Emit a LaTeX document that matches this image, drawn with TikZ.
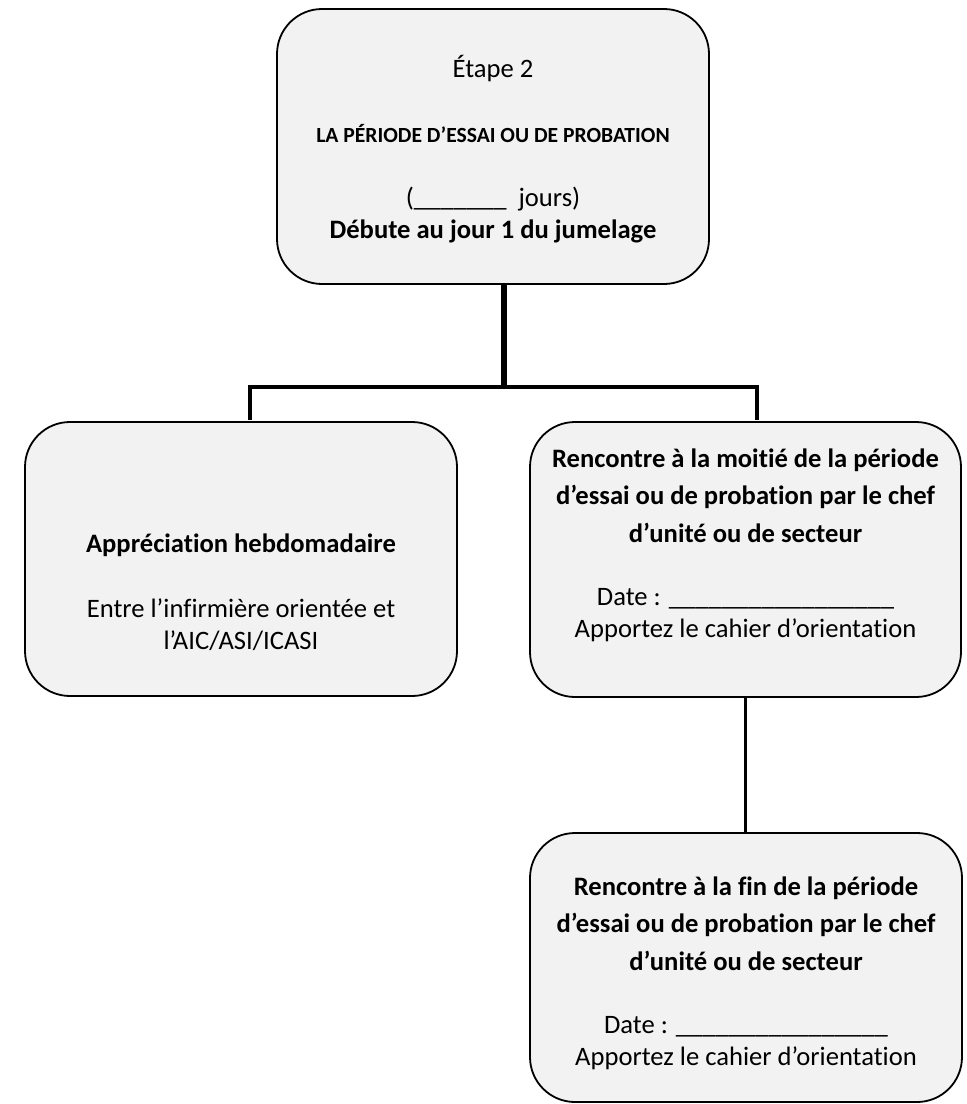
\documentclass[tikz,border=0pt]{standalone}
\usepackage{fontspec}
\setmainfont{Carlito}[Ligatures=NoCommon]
\definecolor{cardgray}{HTML}{F2F2F2}

\begin{document}
\begin{tikzpicture}[x=1pt,y=-1pt]

  \tikzset{
    card/.style={draw=black, line width=1.8pt, fill=cardgray, rounded corners=45pt, inner sep=0pt},
    txt/.style={align=center, font=\fontsize{26.6}{32}\selectfont},
    link/.style={line width=3.8pt, line join=miter},
  }
  \def\blank{\_\_\_\_\_\_\_\_\_\_\_\_\_\_\_\_}

  \useasboundingbox (0,0) rectangle (967,1104);

  %Fork points
  \coordinate (fork) at (504,387);
  \coordinate (leftEnd) at (250,420);
  \coordinate (rightEnd) at (757,420);

  %Boxes
  \node[card, minimum width=432pt, minimum height=275pt] (etape) at (493,146.5) {};
  \node[card, minimum width=432pt, minimum height=274pt] (appr) at (241,559) {};
  \node[card, minimum width=431pt, minimum height=275pt] (mid) at (745.5,559.5) {};
  \node[card, minimum width=432pt, minimum height=269pt] (fin) at (746,967.5) {};

  %Links
  \draw[line width=5.5pt] (etape.south -| fork) -- ([yshift=-1.9pt]fork);
  \draw[link] (leftEnd) |- (fork) -| (rightEnd);
  \draw[link] (mid.south) -- (mid.south |- fin.north);

  %Texts
  \node[txt] (etapeTxt) at (493,149) {%
    Étape 2\\[33pt]
    {\bfseries\fontsize{21.6}{32}\selectfont LA PÉRIODE D’ESSAI OU DE PROBATION}\\[32pt]
    (\_\_\_\_\_\_\_\ \ jours)\\
    \textbf{Débute au jour 1 du jumelage}};
  \node[txt] (apprTxt) at (241,592) {%
    \textbf{Appréciation hebdomadaire}\\[33pt]
    Entre l’infirmière orientée et\\
    l’AIC/ASI/ICASI};
  \node[txt] (midTxt) at (745.5,545) {%
    \textbf{Rencontre à la moitié de la période}\\[5.5pt]
    \textbf{d’essai ou de probation par le chef}\\[5.5pt]
    \textbf{d’unité ou de secteur}\\[31pt]
    Date : \blank\_\\
    Apportez le cahier d’orientation};
  \node[txt] (finTxt) at (746,973) {%
    \textbf{Rencontre à la fin de la période}\\[5.5pt]
    \textbf{d’essai ou de probation par le chef}\\[5.5pt]
    \textbf{d’unité ou de secteur}\\[31pt]
    Date : \blank\\
    Apportez le cahier d’orientation};

\end{tikzpicture}
\end{document}
